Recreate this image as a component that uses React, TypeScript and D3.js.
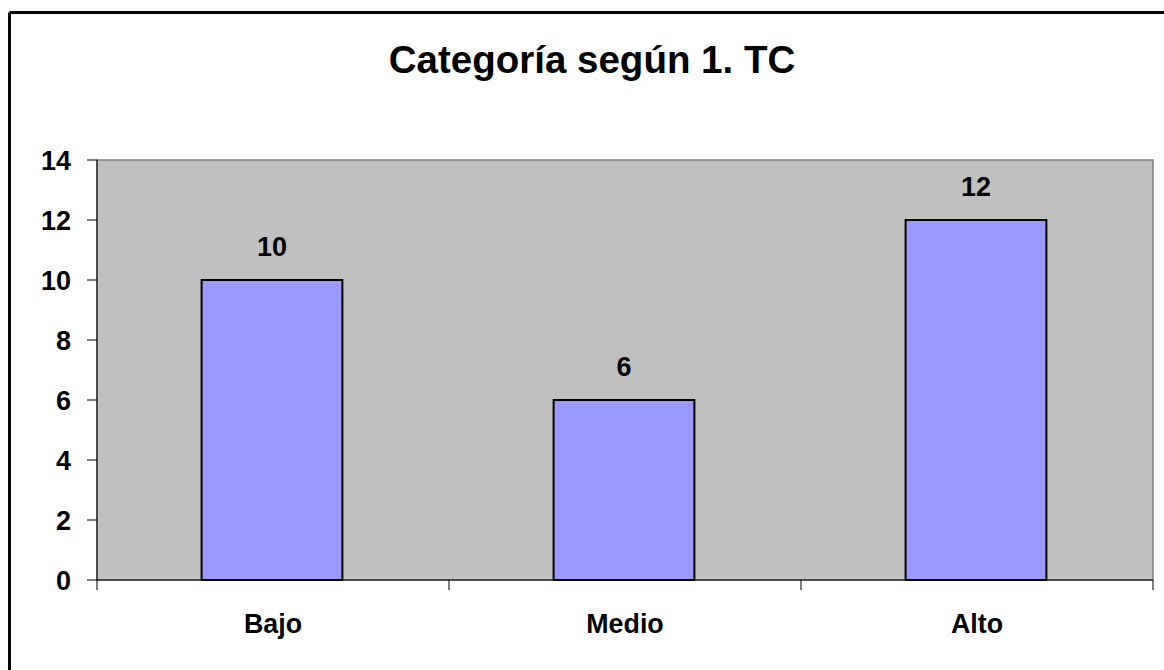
import React from "react";
import * as d3 from "d3";

const categories = ["Bajo", "Medio", "Alto"];
const values = [10, 6, 12];
const yTicks = [0, 2, 4, 6, 8, 10, 12, 14];
const title = "Categoría según 1. TC";

export default function App() {
  const W = 1164, H = 670;
  const left = 97, right = 1153, top = 160, bottom = 580;
  const x = d3.scaleBand<string>().domain(categories).range([left, right]).paddingInner(0.6).paddingOuter(0.3);
  const xOuter = d3.scaleBand<string>().domain(categories).range([left, right]);
  const y = d3.scaleLinear().domain([0, 14]).range([bottom, top]);
  const font = "Arial, 'Liberation Sans', sans-serif";
  const boundaries = [left, ...categories.map((c) => (xOuter(c) as number) + xOuter.bandwidth())];
  return (
    <svg width={W} height={H} style={{ position: "absolute", left: 0, top: 0, display: "block" }} fontFamily={font}>
      <rect x={0} y={0} width={W} height={H} fill="#fff" />
      <line x1={9.5} y1={12.5} x2={W + 5} y2={12.5} stroke="#000" strokeWidth={3} />
      <line x1={9.5} y1={12.5} x2={9.5} y2={H + 5} stroke="#000" strokeWidth={3} />
      <text x={592} y={73} textAnchor="middle" fontSize={38.5} fontWeight="bold">{title}</text>
      <rect x={left} y={top} width={right - left} height={bottom - top} fill="#C0C0C0" stroke="#808080" strokeWidth={1.5} />
      {categories.map((c, i) => (
        <g key={c}>
          <rect x={(x(c) as number) - 1} y={y(values[i])} width={x.bandwidth()} height={bottom - y(values[i])} fill="#9999FF" stroke="#000" strokeWidth={2} />
          <text x={(x(c) as number) + x.bandwidth() / 2 - 1} y={y(values[i]) - 24} textAnchor="middle" fontSize={27} fontWeight="bold">{values[i]}</text>
          <text x={(xOuter(c) as number) + xOuter.bandwidth() / 2} y={633} textAnchor="middle" fontSize={26.8} fontWeight="bold">{c}</text>
        </g>
      ))}
      <line x1={left} y1={top} x2={left} y2={bottom} stroke="#000" strokeWidth={1} />
      <line x1={left} y1={bottom} x2={right} y2={bottom} stroke="#000" strokeWidth={1} />
      {yTicks.map((t) => (
        <g key={t}>
          <line x1={left - 10} y1={y(t)} x2={left} y2={y(t)} stroke="#000" strokeWidth={1} />
          <text x={71} y={y(t) + 9.5} textAnchor="end" fontSize={27} fontWeight="bold">{t}</text>
        </g>
      ))}
      {boundaries.map((b, i) => (
        <line key={i} x1={b} y1={bottom} x2={b} y2={bottom + 10} stroke="#000" strokeWidth={1} />
      ))}
    </svg>
  );
}
